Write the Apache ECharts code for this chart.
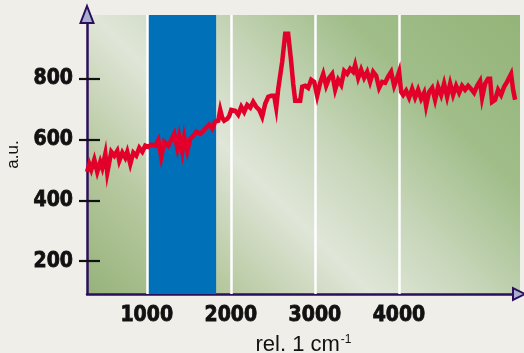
<!DOCTYPE html>
<html>
<head>
<meta charset="utf-8">
<script src="https://cdn.jsdelivr.net/npm/echarts@6/dist/echarts.min.js"></script>
<style>
  html, body { margin: 0; padding: 0; background: #efeee9; }
  #main { width: 524px; height: 353px; }
</style>
</head>
<body>
<div id="main"></div>
<script>
// spectrum
var waveNumber = [
  290, 316, 340, 376, 411, 447, 471, 507, 530, 578, 614, 649, 673, 709, 744, 768, 804, 840, 875, 911,
  947, 982, 1018, 1054, 1101, 1137, 1172, 1208, 1256, 1291, 1327, 1363, 1386, 1422, 1446, 1482, 1517, 1553, 1589, 1636,
  1672, 1707, 1743, 1779, 1814, 1850,
  1874, 1898, 1921, 1957, 1981, 2005, 2052, 2088, 2124, 2159, 2195, 2231, 2266, 2302, 2338, 2373, 2409, 2445, 2480, 2516,
  2540, 2564, 2587, 2611, 2647, 2682, 2718, 2742, 2766, 2801, 2825,
  2849, 2885, 2920, 2956, 2992, 3027, 3063, 3099, 3134, 3170, 3206, 3241, 3277, 3313, 3348, 3384, 3420, 3455, 3479, 3515,
  3550, 3586, 3622, 3657, 3693, 3729, 3764, 3800, 3836, 3871, 3907, 3943, 3978, 4002, 4026,
  4050, 4085, 4121, 4157, 4192, 4228, 4264, 4299, 4323, 4359, 4395, 4430, 4466, 4502, 4537, 4573, 4609, 4644, 4680, 4716,
  4751, 4787, 4823, 4858, 4894, 4930, 4965, 4989, 5025, 5060, 5084, 5108, 5144, 5179, 5215, 5251, 5286, 5334, 5358, 5382
];
var intensity = [
  494, 520, 501, 534, 494, 527, 507, 553, 491, 560, 547, 563, 530, 557, 540, 560, 520, 557, 547, 573,
  560, 580, 576, 583, 580, 599, 543, 593, 580, 599, 619, 573, 609, 560, 609, 563, 603, 612, 626, 619,
  629, 639, 649, 636, 659, 662,
  698, 672, 662, 668, 678, 698, 695, 682, 708, 691, 714, 705, 724, 708, 698, 675, 718, 741, 744, 744,
  705, 767, 767, 856, 948, 948, 856, 784, 728, 728, 728,
  774, 777, 770, 797, 790, 744, 787, 816, 777, 803, 816, 764, 797, 780, 826, 816, 833, 823, 846, 803,
  830, 803, 823, 790, 823, 810, 770, 790, 787, 807, 823, 777, 803, 823, 757,
  747, 761, 738, 767, 738, 764, 734, 754, 711, 757, 770, 731, 774, 747, 784, 741, 784, 747, 777, 754,
  777, 764, 777, 767, 754, 777, 793, 738, 784, 800, 800, 724, 731, 764, 747, 774, 790, 816, 764, 731
];
var xTicks = [1000, 2000, 3000, 4000];
var yTicks = [200, 400, 600, 800];
var blueBand = [1015, 1825];
var xRange = [289, 5440];
var yRange = [92, 1010];

var myChart = echarts.init(document.getElementById('main'));

var data = [];
for (var i = 0; i < waveNumber.length; i++) {
    data.push([waveNumber[i], intensity[i]]);
}

var axisColor = '#2b0e5c';
var labelFont = {
    color: '#111',
    fontFamily: 'DejaVu Sans Condensed, Liberation Sans, sans-serif',
    fontWeight: 'bold',
    fontSize: 21,
    textBorderColor: '#111',
    textBorderWidth: 0.8,
    formatter: function (v) { return String(v); }
};

var option = {
    animation: false,
    backgroundColor: '#efeee9',
    grid: {
        left: 87, right: 4, top: 15, bottom: 59,
        outerBoundsMode: 'none',
        containLabel: false,
        show: true,
        borderWidth: 0,
        backgroundColor: new echarts.graphic.LinearGradient(87, 294, 443, -62, [
            { offset: 0, color: '#96b37a' },
            { offset: 0.2, color: '#b6c89f' },
            { offset: 0.4, color: '#e0e6d8' },
            { offset: 0.56, color: '#c6d5b8' },
            { offset: 0.75, color: '#a1be8a' },
            { offset: 1, color: '#93b479' }
        ], true)
    },
    xAxis: {
        type: 'value',
        min: xRange[0],
        max: xRange[1],
        name: '{a|rel. 1 cm}{s|-1}',
        nameLocation: 'middle',
        nameGap: 40,
        nameTextStyle: {
            rich: {
                a: { fontSize: 22, color: '#111', fontFamily: 'Liberation Sans, Arial, sans-serif' },
                s: { fontSize: 12, color: '#111', fontFamily: 'Liberation Sans, Arial, sans-serif', verticalAlign: 'top', padding: [0, 0, 8, 1] }
            }
        },
        axisLine: { show: true, lineStyle: { color: axisColor, width: 2.5 } },
        axisTick: { show: false },
        splitLine: { show: false },
        axisLabel: Object.assign({ customValues: xTicks, margin: 11 }, labelFont)
    },
    yAxis: [{
        type: 'value',
        position: 'left',
        min: yRange[0],
        max: yRange[1],
        name: 'a.u.',
        nameLocation: 'middle',
        nameGap: 62,
        nameTextStyle: { fontSize: 17, color: '#111', fontFamily: 'Liberation Sans, Arial, sans-serif' },
        axisLine: { show: true, lineStyle: { color: axisColor, width: 2.5 } },
        axisTick: { show: true, customValues: yTicks, length: 8, lineStyle: { color: '#111', width: 2.2 } },
        splitLine: { show: false },
        axisLabel: Object.assign({ customValues: yTicks, margin: 14 }, labelFont)
    }, {
        type: 'value',
        position: 'left',
        offset: 0,
        min: yRange[0],
        max: yRange[1],
        axisLine: { show: false },
        axisTick: { show: true, inside: true, customValues: yTicks, length: 13, lineStyle: { color: '#111', width: 2.2 } },
        axisLabel: { show: false },
        splitLine: { show: false }
    }],
    series: [{
        type: 'line',
        data: [],
        z: 1,
        markArea: {
            silent: true,
            itemStyle: { color: '#0070b8', opacity: 1 },
            data: [[{ xAxis: blueBand[0] }, { xAxis: blueBand[1] }]]
        },
        markLine: {
            silent: true,
            symbol: 'none',
            label: { show: false },
            lineStyle: { color: '#ffffff', width: 2.5, type: 'solid' },
            data: xTicks.map(function (v) { return { xAxis: v }; })
        }
    }, {
        type: 'line',
        z: 10,
        showSymbol: false,
        symbol: 'none',
        lineStyle: { color: '#e2002b', width: 4.5, join: 'miter' },
        data: data
    }]
};
myChart.setOption(option);

// axis arrow heads
var tl = myChart.convertToPixel({ gridIndex: 0 }, [xRange[0], yRange[1]]);
var br = myChart.convertToPixel({ gridIndex: 0 }, [xRange[1], yRange[0]]);
myChart.setOption({
    graphic: [{
        type: 'polygon',
        z: 100,
        shape: { points: [[tl[0], tl[1] - 9], [tl[0] - 6.5, tl[1] + 8], [tl[0] + 6.5, tl[1] + 8]] },
        style: { fill: '#a7afd0', stroke: axisColor, lineWidth: 2 }
    }, {
        type: 'polygon',
        z: 100,
        shape: { points: [[br[0] + 5, br[1]], [br[0] - 7, br[1] - 6], [br[0] - 7, br[1] + 6]] },
        style: { fill: '#a7afd0', stroke: axisColor, lineWidth: 2 }
    }]
});
</script>
</body>
</html>
